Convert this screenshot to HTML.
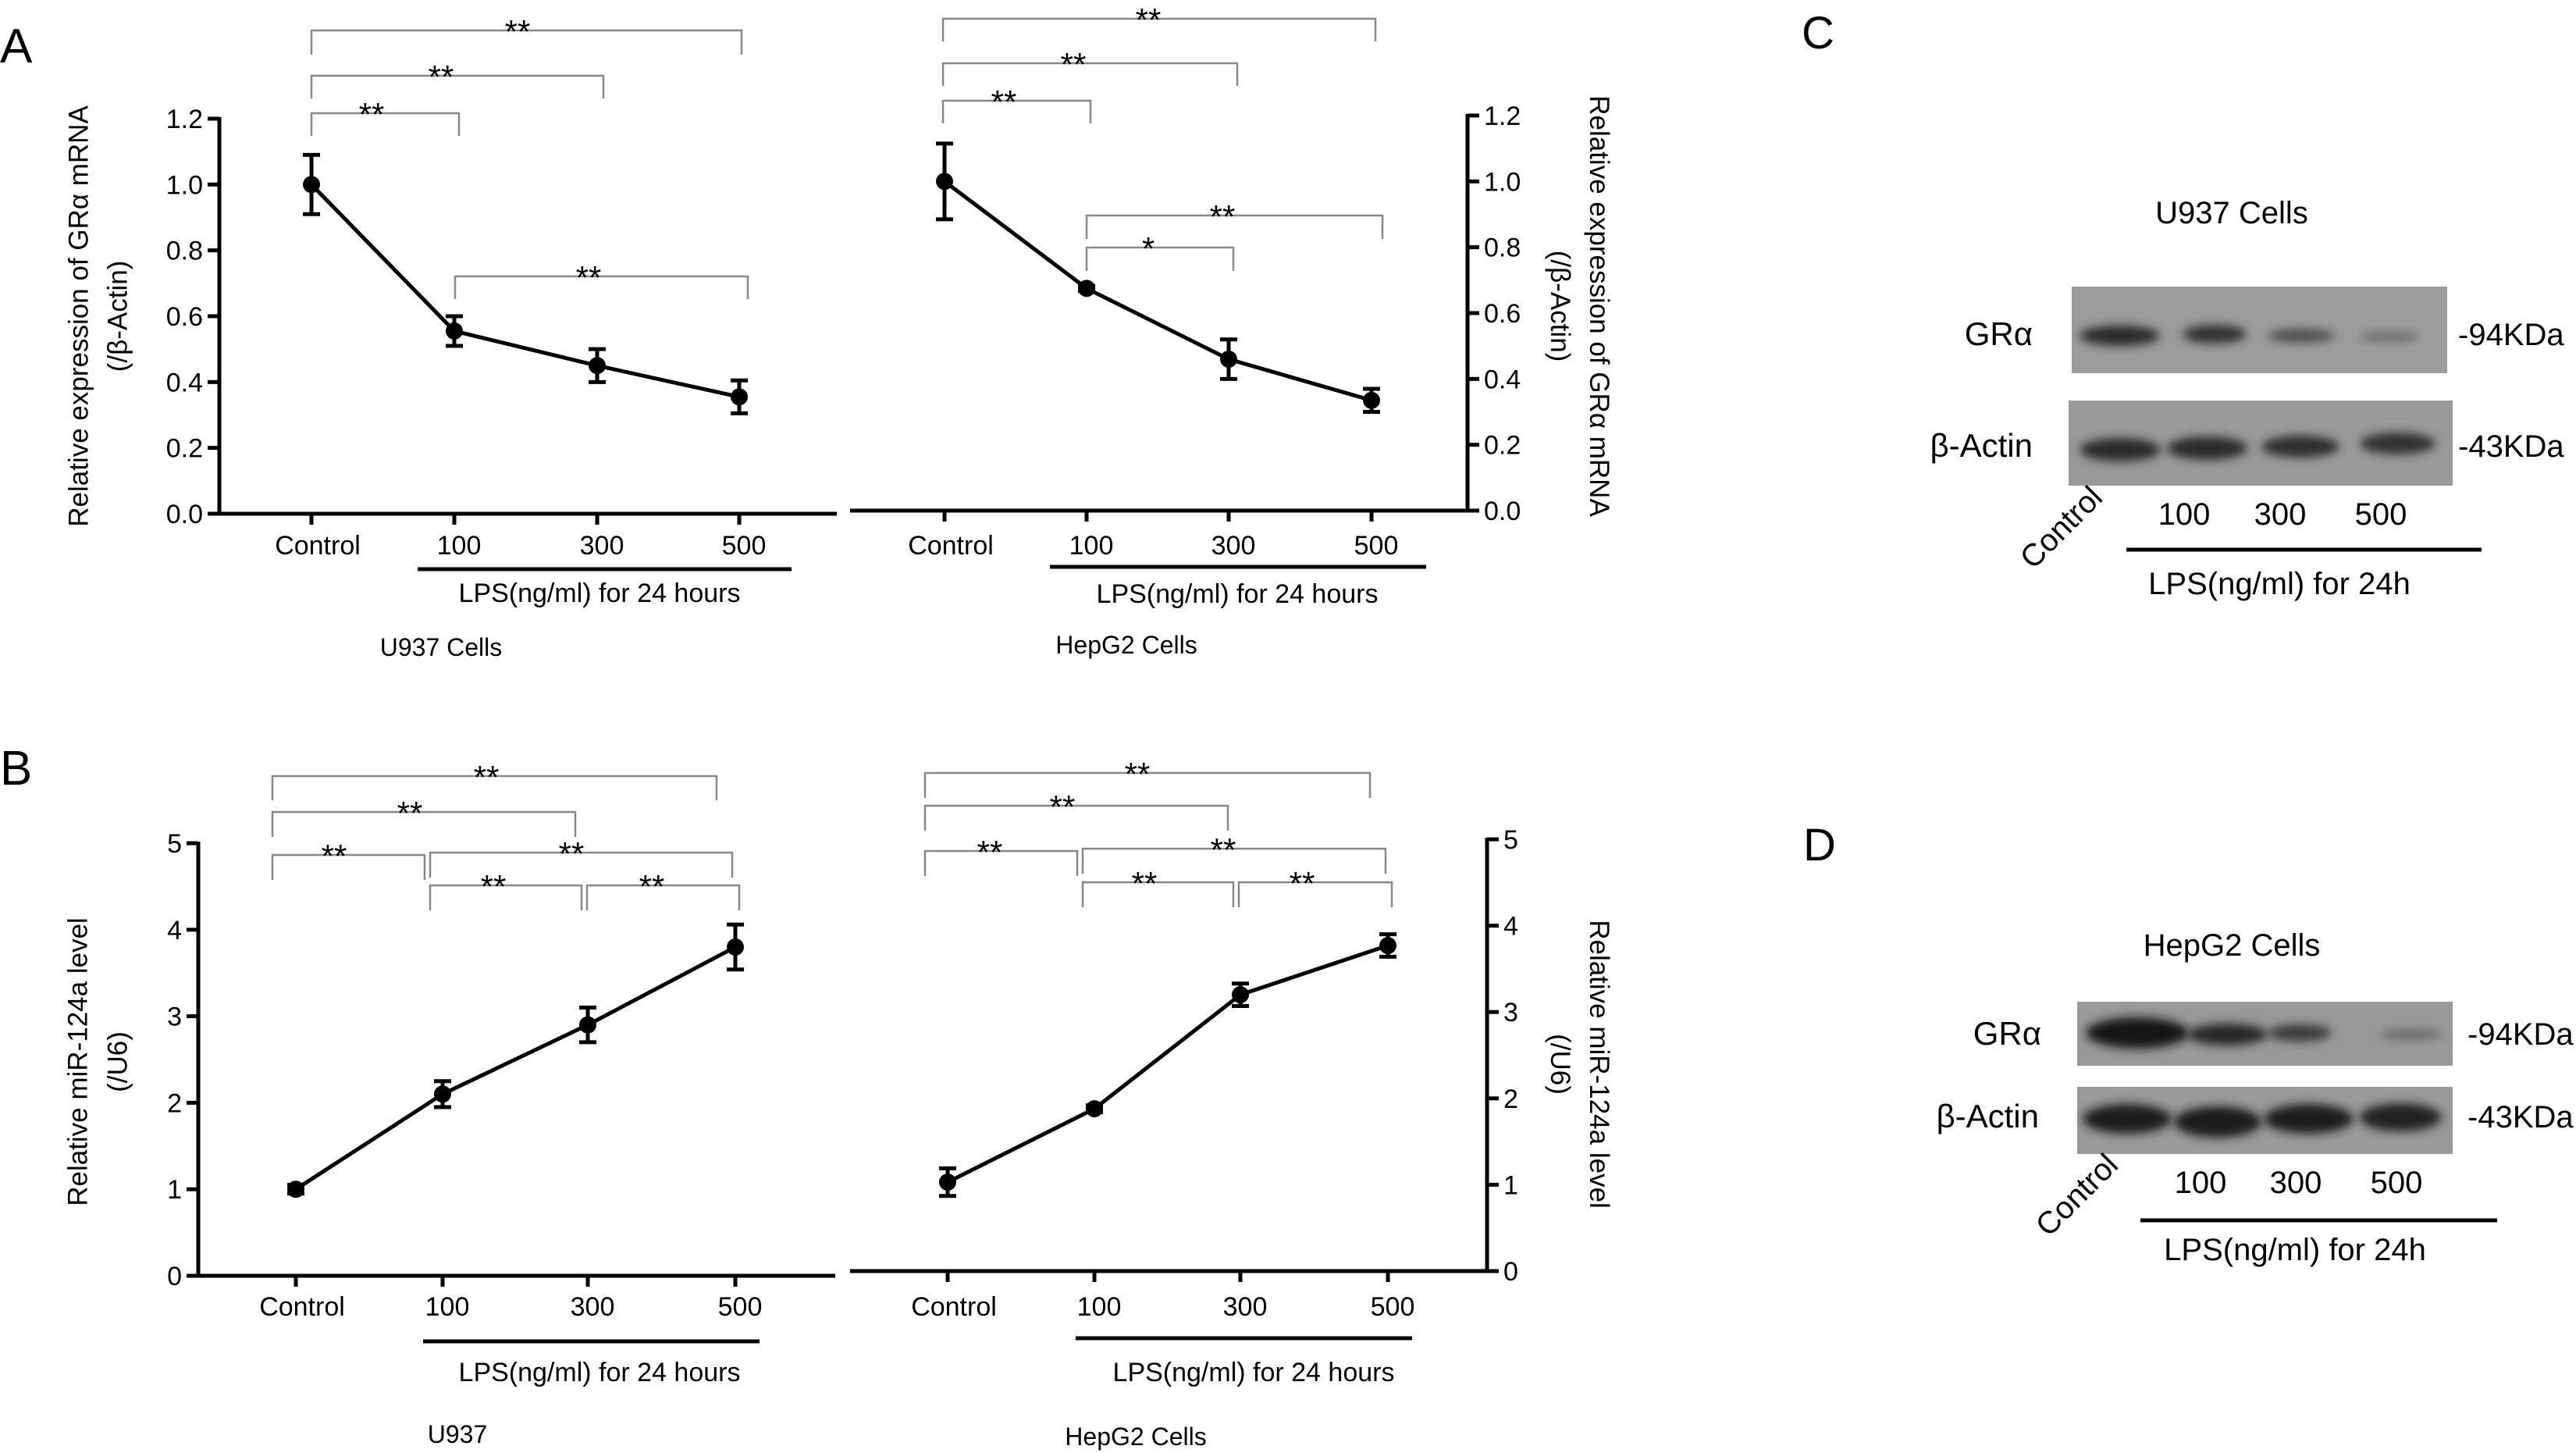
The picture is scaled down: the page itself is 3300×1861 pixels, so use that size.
<!DOCTYPE html>
<html><head><meta charset="utf-8"><style>
html,body{margin:0;padding:0;background:#fff;}
svg{display:block;}
text{font-family:"Liberation Sans",sans-serif;fill:#000;}
.n{font-family:"Liberation Sans Narrow","Liberation Sans",sans-serif;}
</style></head>
<body>
<svg id="fig" xmlns="http://www.w3.org/2000/svg" width="3300" height="1861" viewBox="0 0 3300 1861">
<defs><filter id="blur" x="-20%" y="-50%" width="140%" height="200%"><feGaussianBlur stdDeviation="6"/></filter></defs>
<text x="0" y="80" font-size="62">A</text>
<text x="0" y="1005" font-size="62">B</text>
<text x="2308" y="62" font-size="58">C</text>
<text x="2310" y="1102" font-size="58">D</text>
</svg>
<script>
// ---- chart data ----
const categories = ["Control", "100", "300", "500"];
const aLeftValues = [1.0, 0.555, 0.45, 0.355];
const aLeftErrors = [0.09, 0.045, 0.05, 0.05];
const aRightValues = [1.0, 0.675, 0.46, 0.335];
const aRightErrors = [0.115, 0.008, 0.06, 0.035];
const bLeftValues = [1.0, 2.1, 2.9, 3.8];
const bLeftErrors = [0.05, 0.15, 0.2, 0.26];
const bRightValues = [1.03, 1.88, 3.2, 3.77];
const bRightErrors = [0.16, 0.04, 0.13, 0.13];
const aTickLabels = ["0.0", "0.2", "0.4", "0.6", "0.8", "1.0", "1.2"];
const aTickValues = [0, 0.2, 0.4, 0.6, 0.8, 1.0, 1.2];
const bTickLabels = ["0", "1", "2", "3", "4", "5"];
const bTickValues = [0, 1, 2, 3, 4, 5];
const aLeftSig = [["0","3","**"],["0","2","**"],["0","1","**"],["1","3","**"]];
const aRightSig = [["0","3","**"],["0","2","**"],["0","1","**"],["1","3","**"],["1","2","*"]];
const bSig = [["0","3","**"],["0","2","**"],["0","1","**"],["1","3","**"],["1","2","**"],["2","3","**"]];

const NS = "http://www.w3.org/2000/svg";
const svg = document.getElementById("fig");
function mk(tag, attrs, parent) {
  const e = document.createElementNS(NS, tag);
  for (const k in attrs) e.setAttribute(k, attrs[k]);
  (parent || svg).appendChild(e);
  return e;
}
function txt(str, attrs, parent) { const t = mk("text", attrs, parent); t.textContent = str; return t; }

function panel(p) {
  const g = mk("g", {});
  
  
  const xs = (i) => p.catX[i];
  const ys = (v) => p.y0 - (v - 0) / p.yMax * (p.y0 - p.yTop);
  const xa = mk("line", {x1: p.xStart, x2: p.xEnd, y1: p.y0, y2: p.y0, stroke: "#000", "stroke-width": 5}, g);
  
  
  const ya = mk("line", {x1: p.axisX, x2: p.axisX, y1: p.yTop - 2, y2: p.y0 + 2, stroke: "#000", "stroke-width": 5}, g);
  
  
  const dir = p.right ? 1 : -1;
  p.tickValues.forEach((v, i) => {
    const y = ys(v);
    mk("line", {x1: p.axisX, x2: p.axisX + dir * 15, y1: y, y2: y, stroke: "#000", "stroke-width": 5}, g);
    const t = txt(p.tickLabels[i], {x: p.axisX + dir * 21, y: y + 12, "font-size": 34, "text-anchor": p.right ? "start" : "end", class: "n"}, g);
    
    
  });
  categories.forEach((c, i) => {
    mk("line", {x1: xs(i), x2: xs(i), y1: p.y0, y2: p.y0 + 14, stroke: "#000", "stroke-width": 5}, g);
    const t = txt(c, {x: xs(i) + (i === 0 ? 8 : 6), y: p.catY, "font-size": 34, "text-anchor": "middle", class: "n"}, g);
    
    
  });
  const pts = p.values.map((v, i) => xs(i) + "," + ys(v)).join(" ");
  const pl = mk("polyline", {points: pts, fill: "none", stroke: "#000", "stroke-width": 5}, g);
  
  
  p.values.forEach((v, i) => {
    const x = xs(i), e = p.errors[i];
    const eg = mk("g", {}, g);
    
    
    mk("line", {x1: x, x2: x, y1: ys(v + e), y2: ys(v - e), stroke: "#000", "stroke-width": 5}, eg);
    mk("line", {x1: x - 11, x2: x + 11, y1: ys(v + e), y2: ys(v + e), stroke: "#000", "stroke-width": 5}, eg);
    mk("line", {x1: x - 11, x2: x + 11, y1: ys(v - e), y2: ys(v - e), stroke: "#000", "stroke-width": 5}, eg);
    const c = mk("circle", {cx: x, cy: ys(v), r: 11, fill: "#000"}, g);
    
    
  });
  p.sig.forEach((s, k) => {
    const b = p.brackets[k];
    const bg = mk("g", {}, g);
    
    
    mk("polyline", {points: `${b[0]},${b[3]} ${b[0]},${b[2]} ${b[1]},${b[2]} ${b[1]},${b[3]}`, fill: "none", stroke: "#888", "stroke-width": 2.5}, bg);
    txt(s[2], {x: b[4], y: b[2] + 16, "font-size": 42, "text-anchor": "middle"}, bg);
  });
  const lb = mk("line", {x1: p.lps[0], x2: p.lps[1], y1: p.lps[2], y2: p.lps[2], stroke: "#000", "stroke-width": 5}, g);
  
  
  const lt = txt("LPS(ng/ml) for 24 hours", {x: p.lpsText[0], y: p.lpsText[1], "font-size": 34, "text-anchor": "middle", class: "n"}, g);
  
  
  const ct = txt(p.cell, {x: p.cellPos[0], y: p.cellPos[1], "font-size": 32, "text-anchor": "middle", class: "n"}, g);
  
  
  const rot = p.right ? 90 : -90;
  p.title.forEach((line, j) => {
    const t = txt(line, {x: 0, y: 0, "font-size": 35, "text-anchor": "middle",
      transform: `translate(${p.titleX[j]},${p.titleY}) rotate(${rot})`, "dominant-baseline": "middle"}, g);
    
    
  });
}

panel({name: "chart-a-u937", catX: [399, 582, 765, 947], xStart: 267, xEnd: 1072, axisX: 281, yTop: 152, y0: 658, yMax: 1.2,
  tickValues: aTickValues, tickLabels: aTickLabels, values: aLeftValues, errors: aLeftErrors, sig: aLeftSig,
  brackets: [[399, 950, 39, 70, 663], [399, 773, 97, 126, 565], [399, 588, 145, 174, 476], [583, 958, 354, 383, 754]],
  catY: 710, lps: [535, 1014, 729], lpsText: [768, 771], cell: "U937 Cells", cellPos: [565, 840],
  title: ["Relative expression of GRα mRNA", "(/β-Actin)"], titleX: [103, 153], titleY: 405});
panel({name: "chart-a-hepg2", right: true, catX: [1210, 1392, 1574, 1757], xStart: 1089, xEnd: 1882, axisX: 1880, yTop: 148, y0: 654, yMax: 1.2,
  tickValues: aTickValues, tickLabels: aTickLabels, values: aRightValues, errors: aRightErrors, sig: aRightSig,
  brackets: [[1208, 1762, 24, 53, 1471], [1208, 1585, 81, 110, 1375], [1208, 1397, 129, 158, 1286], [1392, 1771, 276, 306, 1566], [1392, 1580, 317, 347, 1471]],
  catY: 710, lps: [1345, 1827, 726], lpsText: [1585, 772], cell: "HepG2 Cells", cellPos: [1443, 837],
  title: ["Relative expression of GRα mRNA", "(/β-Actin)"], titleX: [2046, 1996], titleY: 392});
panel({name: "chart-b-u937", catX: [379, 567, 753, 942], xStart: 242, xEnd: 1070, axisX: 254, yTop: 1080, y0: 1634, yMax: 5,
  tickValues: bTickValues, tickLabels: bTickLabels, values: bLeftValues, errors: bLeftErrors, sig: bSig,
  brackets: [[349, 918, 994, 1025, 623], [349, 737, 1040, 1072, 525], [349, 544, 1095, 1127, 428], [551, 938, 1092, 1124, 732], [551, 745, 1134, 1166, 632], [752, 947, 1134, 1166, 835]],
  catY: 1685, lps: [542, 973, 1718], lpsText: [768, 1769], cell: "U937", cellPos: [586, 1848],
  title: ["Relative miR-124a level", "(/U6)"], titleX: [102, 153], titleY: 1360});
panel({name: "chart-b-hepg2", right: true, catX: [1214, 1402, 1589, 1778], xStart: 1089, xEnd: 1907, axisX: 1905, yTop: 1075, y0: 1628, yMax: 5,
  tickValues: bTickValues, tickLabels: bTickLabels, values: bRightValues, errors: bRightErrors, sig: bSig,
  brackets: [[1185, 1755, 990, 1022, 1457], [1185, 1573, 1032, 1064, 1361], [1185, 1380, 1090, 1122, 1268], [1387, 1775, 1087, 1119, 1567], [1387, 1580, 1130, 1162, 1466], [1587, 1783, 1130, 1162, 1668]],
  catY: 1685, lps: [1378, 1809, 1714], lpsText: [1606, 1769], cell: "HepG2 Cells", cellPos: [1455, 1851],
  title: ["Relative miR-124a level", "(/U6)"], titleX: [2046, 1996], titleY: 1363});

function blot(b) {
  const g = mk("g", {});
  
  
  const t = txt(b.title, {x: 2859, y: b.titleY, "font-size": 40, "text-anchor": "middle"}, g);
  
  
  b.rows.forEach((r) => {
    const rg = mk("g", {}, g);
    
    
    mk("rect", {x: r.box[0], y: r.box[1], width: r.box[2] - r.box[0], height: r.box[3] - r.box[1], fill: r.bg}, rg);
    r.bands.forEach((bd) => {
      mk("ellipse", {cx: (bd[0] + bd[1]) / 2, cy: bd[2], rx: (bd[1] - bd[0]) / 2, ry: bd[3], fill: bd[4], filter: "url(#blur)"}, rg);
    });
    txt(r.label, {x: r.labelX, y: r.labelY, "font-size": 42, "text-anchor": "end"}, rg);
    txt(r.kda, {x: r.kdaX, y: r.labelY, "font-size": 40}, rg);
  });
  const ctl = txt("Control", {x: 0, y: 0, "font-size": 40, "text-anchor": "middle", transform: `translate(${b.ctl[0]},${b.ctl[1]}) rotate(-45)`}, g);
  
  
  ["100", "300", "500"].forEach((s, i) => {
    const l = txt(s, {x: b.lanes[i], y: b.laneY, "font-size": 40, "text-anchor": "middle"}, g);
    
    
  });
  mk("line", {x1: b.line[0], x2: b.line[1], y1: b.line[2], y2: b.line[2], stroke: "#000", "stroke-width": 5}, g);
  txt("LPS(ng/ml) for 24h", {x: b.lpsX, y: b.lpsY, "font-size": 40, "text-anchor": "middle"}, g);
}
blot({name: "blot-u937", title: "U937 Cells", titleY: 286,
  rows: [
    {name: "gra-blot", box: [2654, 367, 3135, 478], bg: "#9c9c9c", label: "GRα", labelX: 2604, labelY: 442, kda: "-94KDa", kdaX: 3149,
     bands: [[2664, 2767, 430, 13, "#2a2a2a"], [2796, 2878, 428, 12, "#333"], [2905, 2991, 430, 9, "#505050"], [3023, 3100, 431, 7, "#707070"]]},
    {name: "actin-blot", box: [2650, 513, 3142, 622], bg: "#9a9a9a", label: "β-Actin", labelX: 2604, labelY: 585, kda: "-43KDa", kdaX: 3149,
     bands: [[2664, 2768, 576, 15, "#2a2a2a"], [2776, 2879, 574, 15, "#2c2c2c"], [2897, 2997, 572, 14, "#2e2e2e"], [3023, 3120, 568, 14, "#303030"]]}
  ], ctl: [2650, 685], lanes: [2798, 2921, 3050], laneY: 672, line: [2724, 3179, 704], lpsX: 2920, lpsY: 761});
blot({name: "blot-hepg2", title: "HepG2 Cells", titleY: 1224,
  rows: [
    {name: "gra-blot", box: [2661, 1283, 3142, 1365], bg: "#999", label: "GRα", labelX: 2615, labelY: 1338, kda: "-94KDa", kdaX: 3161,
     bands: [[2672, 2804, 1323, 20, "#161616"], [2802, 2905, 1325, 14, "#262626"], [2905, 2987, 1323, 11, "#3a3a3a"], [3049, 3129, 1325, 7, "#6a6a6a"]]},
    {name: "actin-blot", box: [2661, 1392, 3142, 1478], bg: "#9a9a9a", label: "β-Actin", labelX: 2612, labelY: 1444, kda: "-43KDa", kdaX: 3161,
     bands: [[2668, 2782, 1433, 19, "#1c1c1c"], [2785, 2897, 1437, 20, "#1c1c1c"], [2900, 3015, 1433, 19, "#1e1e1e"], [3023, 3128, 1431, 18, "#202020"]]}
  ], ctl: [2670, 1540], lanes: [2819, 2941, 3070], laneY: 1528, line: [2742, 3199, 1563], lpsX: 2940, lpsY: 1614});
</script>
</body></html>
